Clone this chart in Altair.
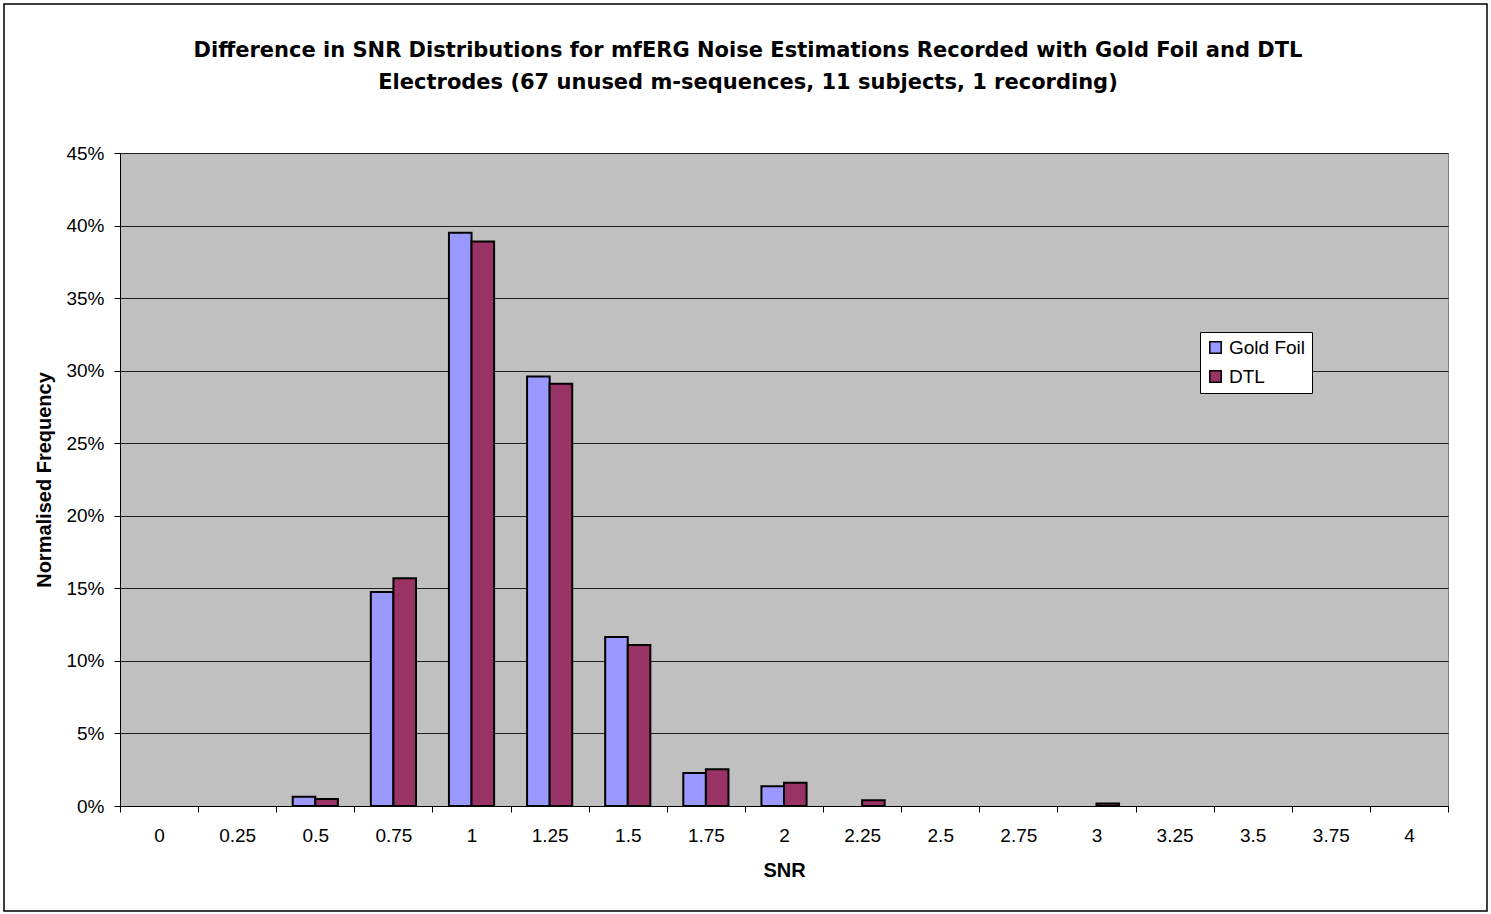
import altair as alt
import pandas as pd

# SNR bins (category labels) and normalised frequencies in percent
snr = ["0", "0.25", "0.5", "0.75", "1", "1.25", "1.5", "1.75", "2", "2.25",
       "2.5", "2.75", "3", "3.25", "3.5", "3.75", "4"]
gold_foil = [0, 0, 0.64, 14.75, 39.5, 29.6, 11.65, 2.27, 1.36, 0,
             0, 0, 0, 0, 0, 0, 0]
dtl = [0, 0, 0.48, 15.7, 38.9, 29.1, 11.1, 2.53, 1.6, 0.39,
       0, 0, 0.18, 0, 0, 0, 0]
series = ["Gold Foil", "DTL"]
colors = ["#9999FF", "#993366"]
y_ticks = [0, 0.05, 0.10, 0.15, 0.20, 0.25, 0.30, 0.35, 0.40, 0.45]

rows = []
for name, vals in zip(series, [gold_foil, dtl]):
    for c, v in zip(snr, vals):
        rows.append({"snr": c, "series": name, "freq": v / 100})
df = pd.DataFrame(rows)

FONT = "Liberation Sans"
TITLE_FONT = "DejaVu Sans"
PLOT_W, PLOT_H = 1328, 653

bars = alt.Chart(df).transform_filter("datum.freq > 0").mark_bar(
    stroke="black", strokeWidth=2
).encode(
    x=alt.X(
        "snr:N",
        sort=snr,
        title="SNR",
        scale=alt.Scale(domain=snr, paddingInner=0, paddingOuter=0),
        axis=alt.Axis(
            tickBand="extent", labelAngle=0, labelFontSize=19, labelFont=FONT,
            labelColor="black", labelPadding=14, tickSize=6, tickColor="black",
            domainColor="black", grid=False,
            titleFontSize=20, titleFont=FONT, titleFontWeight="bold",
            titleColor="black", titleY=64, titleBaseline="middle",
        ),
    ),
    xOffset=alt.XOffset(
        "series:N", sort=series,
        scale=alt.Scale(domain=series, paddingInner=0, paddingOuter=0.73),
    ),
    y=alt.Y(
        "freq:Q",
        title="Normalised Frequency",
        scale=alt.Scale(domain=[0, 0.45], nice=False, zero=True),
        axis=alt.Axis(
            values=y_ticks, format=".0%", labelFontSize=19, labelFont=FONT,
            labelColor="black", labelPadding=10, tickSize=6, tickColor="black",
            domainColor="black", grid=True, gridColor="#202020", gridWidth=1,
            titleFontSize=20, titleFont=FONT, titleFontWeight="bold",
            titleColor="black", titleX=-76, titleY=PLOT_H / 2,
            titleAlign="center", titleBaseline="middle", titleAngle=-90,
        ),
    ),
    color=alt.Color(
        "series:N",
        sort=series,
        scale=alt.Scale(domain=series, range=colors),
        legend=alt.Legend(
            title=None, orient="none", legendX=1080, legendY=179,
            labelFontSize=19, labelFont=FONT, labelColor="black",
            symbolType="square", symbolSize=130, symbolStrokeColor="black",
            symbolStrokeWidth=1.5, symbolOpacity=1,
            fillColor="white", strokeColor="black", padding=6,
            rowPadding=9, labelOffset=4,
        ),
    ),
)

# Outer chart frame
frame = alt.Chart(pd.DataFrame({"k": [0]})).mark_rect(
    fill="transparent", stroke="black", strokeWidth=1.5
).encode(
    x=alt.value(-116), x2=alt.value(1367),
    y=alt.value(-149), y2=alt.value(758),
)

chart = alt.layer(frame, bars).properties(
    width=PLOT_W,
    height=PLOT_H,
    background="white",
    title=alt.TitleParams(
        text=["Difference in SNR Distributions for mfERG Noise Estimations Recorded with Gold Foil and DTL",
              "Electrodes (67 unused m-sequences, 11 subjects, 1 recording)"],
        font=TITLE_FONT, fontSize=21, fontWeight="bold", color="black",
        anchor="middle", dx=-36, offset=0, dy=90, lineHeight=32,
    ),
    autosize=alt.AutoSizeParams(type="none"),
    padding={"left": 120, "top": 153, "right": 43, "bottom": 108},
).configure_view(
    fill="#C0C0C0", stroke="#808080", strokeWidth=1
)

chart.save("out.html", embed_options={"renderer": "svg", "actions": False})
